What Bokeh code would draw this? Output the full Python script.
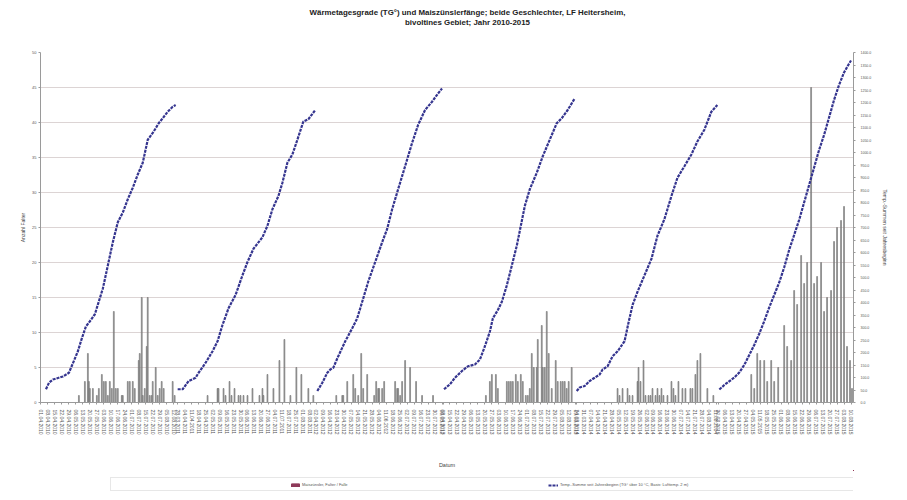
import datetime as dt
from bokeh.plotting import figure
from bokeh.layouts import column
from bokeh.models import (Range1d, LinearAxis, FixedTicker, NumeralTickFormatter,
                          Legend, LegendItem, ColumnDataSource, Label)
from bokeh.embed import file_html
from bokeh.resources import INLINE

# ---------------- data ----------------
years = [2010, 2011, 2012, 2013, 2014, 2015]
year_start = ["01.04.2010", "28.03.2011", "02.04.2012", "08.04.2013", "24.03.2014", "30.03.2015"]
year_days = [137, 139, 127, 134, 142, 136]

# temperature sums (right axis) : day offset within season, value
temp_day_2010 = [5, 8, 12, 22, 28, 37, 40, 45, 50, 54, 62, 67, 72, 77, 82, 87, 92, 97, 102, 107, 113, 118, 122, 127, 132, 135]
temp_val_2010 = [53, 79, 92, 104, 119, 205, 245, 304, 330, 353, 456, 548, 641, 721, 760, 813, 859, 912, 959, 1051, 1084, 1117, 1137, 1163, 1183, 1190]
temp_day_2011 = [0, 5, 11, 18, 21, 28, 35, 40, 45, 51, 58, 65, 70, 76, 85, 90, 95, 101, 105, 110, 115, 120, 126, 131, 138]
temp_val_2011 = [53, 53, 86, 99, 119, 159, 205, 245, 311, 377, 430, 509, 562, 615, 661, 707, 773, 826, 879, 959, 992, 1051, 1124, 1133, 1170]
temp_day_2012 = [1, 6, 11, 14, 17, 22, 29, 36, 41, 46, 52, 59, 66, 71, 76, 82, 89, 96, 102, 109, 116, 122, 126]
temp_val_2012 = [46, 79, 119, 132, 139, 185, 245, 297, 337, 403, 483, 562, 641, 694, 773, 853, 945, 1038, 1110, 1170, 1203, 1236, 1256]
temp_day_2013 = [1, 7, 12, 19, 25, 32, 37, 42, 47, 50, 55, 59, 64, 69, 74, 78, 82, 87, 94, 100, 107, 114, 119, 125, 132]
temp_val_2013 = [53, 73, 99, 126, 145, 152, 172, 225, 284, 337, 370, 403, 469, 548, 628, 707, 786, 853, 919, 985, 1051, 1117, 1137, 1170, 1216]
temp_day_2014 = [0, 3, 8, 13, 18, 23, 26, 31, 36, 41, 48, 52, 56, 61, 68, 75, 81, 88, 95, 101, 108, 115, 121, 128, 135, 141]
temp_val_2014 = [46, 60, 66, 86, 99, 112, 132, 145, 185, 205, 245, 320, 390, 443, 509, 575, 667, 734, 826, 899, 945, 992, 1044, 1091, 1163, 1190]
temp_day_2015 = [1, 6, 11, 16, 21, 26, 31, 36, 41, 46, 51, 56, 61, 66, 71, 76, 81, 86, 91, 96, 101, 106, 111, 116, 121, 126, 131, 133]
temp_val_2015 = [52, 70, 85, 100, 120, 150, 190, 230, 275, 325, 380, 430, 480, 540, 610, 670, 730, 800, 870, 940, 1010, 1070, 1140, 1210, 1270, 1320, 1355, 1368]

# moth catches (left axis): day offset within season, number of moths
catch_day_2010 = [38, 44, 47, 48, 49, 52, 56, 58, 61, 63, 65, 67, 69, 71, 73, 75, 77, 81, 82, 87, 89, 92, 94, 98, 99, 101, 102, 104, 106, 107, 109, 111, 112, 115, 117, 119, 121, 123, 132, 134]
catch_val_2010 = [1, 3, 7, 3, 2, 2, 1, 2, 4, 3, 3, 1, 3, 2, 13, 2, 2, 1, 1, 3, 3, 3, 2, 6, 7, 15, 1, 2, 8, 15, 1, 1, 3, 5, 1, 2, 3, 2, 3, 1]
catch_day_2011 = [30, 40, 41, 46, 48, 52, 54, 57, 61, 63, 66, 70, 75, 82, 85, 86, 90, 96, 102, 107, 113, 119, 124, 131, 136]
catch_val_2011 = [1, 2, 2, 2, 1, 3, 1, 2, 1, 1, 1, 1, 2, 1, 2, 1, 4, 2, 6, 9, 1, 5, 4, 2, 1]
catch_day_2012 = [20, 26, 27, 31, 37, 39, 42, 45, 47, 51, 58, 60, 62, 63, 66, 68, 79, 81, 82, 84, 86, 89, 94, 100, 106, 117]
catch_val_2012 = [1, 1, 1, 3, 4, 2, 1, 7, 2, 4, 1, 3, 2, 2, 2, 3, 3, 2, 2, 1, 3, 6, 5, 3, 1, 1]
catch_day_2013 = [43, 47, 49, 53, 55, 64, 66, 68, 70, 73, 75, 78, 80, 83, 85, 87, 89, 91, 94, 95, 99, 100, 102, 104, 106, 109, 113, 115, 118, 120, 122, 124, 126, 129]
catch_val_2013 = [1, 3, 4, 4, 2, 3, 3, 3, 3, 4, 3, 4, 3, 1, 1, 2, 7, 5, 5, 9, 11, 5, 5, 13, 7, 2, 6, 3, 3, 3, 3, 2, 3, 5]
catch_day_2014 = [41, 43, 46, 51, 53, 56, 61, 62, 64, 67, 69, 72, 74, 76, 79, 81, 83, 85, 87, 91, 95, 97, 99, 102, 106, 109, 114, 116, 119, 121, 124, 131, 137]
catch_val_2014 = [2, 1, 2, 2, 1, 1, 3, 5, 3, 6, 1, 1, 1, 2, 1, 2, 1, 2, 1, 1, 3, 2, 1, 3, 2, 2, 2, 2, 4, 6, 7, 2, 1]
catch_day_2015 = [33, 36, 39, 42, 46, 49, 53, 56, 60, 66, 69, 73, 76, 79, 83, 86, 89, 93, 96, 99, 103, 106, 109, 113, 116, 119, 123, 126, 129, 132, 134]
catch_val_2015 = [4, 2, 7, 6, 6, 3, 6, 3, 5, 11, 8, 6, 16, 14, 21, 17, 20, 45, 17, 18, 20, 13, 15, 16, 23, 25, 26, 28, 8, 6, 2]

temp_days = [temp_day_2010, temp_day_2011, temp_day_2012, temp_day_2013, temp_day_2014, temp_day_2015]
temp_vals = [temp_val_2010, temp_val_2011, temp_val_2012, temp_val_2013, temp_val_2014, temp_val_2015]
catch_days = [catch_day_2010, catch_day_2011, catch_day_2012, catch_day_2013, catch_day_2014, catch_day_2015]
catch_vals = [catch_val_2010, catch_val_2011, catch_val_2012, catch_val_2013, catch_val_2014, catch_val_2015]

title_lines = ["Wärmetagesgrade (TG°) und Maiszünslerfänge; beide Geschlechter, LF Heitersheim,",
               "bivoltines Gebiet; Jahr 2010-2015"]
label_catch = "Maiszünsler, Falter / Falle"
label_temp = "Temp.-Summe seit Jahresbeginn (TG° über 10 °C, Basis: Lufttemp. 2 m)"

# ---------------- derived positions ----------------
offsets = []
acc = 0
for n in year_days:
    offsets.append(acc)
    acc += n
total_days = acc

tick_pos = []
tick_lab = {}
for start, off, n in zip(year_start, offsets, year_days):
    d0 = dt.datetime.strptime(start, "%d.%m.%Y")
    for d in range(0, n, 7):
        tick_pos.append(off + d)
        tick_lab[off + d] = (d0 + dt.timedelta(days=d)).strftime("%d.%m.%Y")

FONT = "Liberation Sans"

# ---------------- title strip ----------------
tt = figure(width=891, height=30, x_range=Range1d(0, 1), y_range=Range1d(0, 1),
            output_backend="svg", toolbar_location=None, min_border=0,
            x_axis_location=None, y_axis_location=None)
tt.outline_line_color = None
tt.grid.visible = False
tt.add_layout(Label(x=427, y=13, x_units="screen", y_units="screen",
                    text="\n".join(title_lines), text_align="center", text_baseline="middle",
                    text_font=FONT, text_font_size="7.9px", text_font_style="bold",
                    text_color="#222222"))

# ---------------- main chart ----------------
p = figure(width=891, height=440, x_range=Range1d(-0.5, total_days - 0.5), y_range=Range1d(0, 50),
           output_backend="svg", toolbar_location=None,
           min_border_left=40, min_border_right=36, min_border_top=22, min_border_bottom=65)
p.extra_y_ranges = {"temp": Range1d(0, 1400)}

p.outline_line_color = None
p.xgrid.visible = False
p.ygrid.grid_line_color = "#dcd4d4"
p.ygrid.grid_line_width = 1

# left axis
ax = p.yaxis[0]
ax.ticker = FixedTicker(ticks=list(range(0, 51, 5)))
ax.axis_label = "Anzahl Falter"
ax.axis_label_text_font = FONT
ax.axis_label_text_font_size = "5px"
ax.axis_label_text_font_style = "normal"
ax.axis_label_standoff = 3
ax.major_label_standoff = 2
ax.major_label_text_font = FONT
ax.major_label_text_font_size = "4px"
ax.major_label_text_color = "#555555"
ax.axis_line_color = "#9a9a9a"
ax.major_tick_line_color = "#9a9a9a"
ax.major_tick_out = 2
ax.major_tick_in = 0
ax.minor_tick_line_color = None

# right axis
rax = LinearAxis(y_range_name="temp", ticker=FixedTicker(ticks=list(range(0, 1401, 50))),
                 formatter=NumeralTickFormatter(format="0.0"))
rax.axis_label = "Temp.-Summen seit Jahresbeginn"
rax.axis_label_text_font = FONT
rax.axis_label_text_font_size = "5px"
rax.axis_label_text_font_style = "normal"
rax.axis_label_standoff = 8
try:
    rax.axis_label_orientation = "vertical"
except Exception:
    pass
rax.major_label_text_font = FONT
rax.major_label_text_font_size = "3.5px"
rax.major_label_text_color = "#555555"
rax.axis_line_color = "#9a9a9a"
rax.major_tick_line_color = "#9a9a9a"
rax.major_tick_out = 2
rax.major_tick_in = 0
rax.minor_tick_line_color = None
p.add_layout(rax, "right")

# bottom axis
bx = p.xaxis[0]
bx.ticker = FixedTicker(ticks=tick_pos)
bx.major_label_overrides = tick_lab
bx.major_label_orientation = "vertical"
bx.major_label_text_font = FONT
bx.major_label_text_font_size = "5px"
bx.major_label_text_color = "#555555"
bx.axis_label = "Datum"
bx.axis_label_text_font = FONT
bx.axis_label_text_font_size = "5.5px"
bx.axis_label_text_font_style = "normal"
bx.axis_label_standoff = 24
bx.axis_line_color = "#9a9a9a"
bx.major_tick_line_color = "#9a9a9a"
bx.major_tick_out = 2
bx.major_tick_in = 0
bx.minor_tick_line_color = None

# bars
bar_sources = []
for off, days, vals in zip(offsets, catch_days, catch_vals):
    src = ColumnDataSource(dict(x=[off + d for d in days], top=vals))
    bar_sources.append(src)
    p.vbar(x="x", top="top", bottom=0, width=0.9, source=src,
           fill_color="#ababab", line_color="#6a6a6a", line_width=0.6)

# temperature lines
line_sources = []
for off, days, vals in zip(offsets, temp_days, temp_vals):
    src = ColumnDataSource(dict(x=[off + d for d in days], y=vals))
    line_sources.append(src)
    p.line(x="x", y="y", source=src, y_range_name="temp",
           line_color="#35358f", line_width=2.2, line_dash="3 1")

# ---------------- legend strip below the chart ----------------
# The strip shows the same series, but its ranges lie outside the data, so only
# the legend swatches are visible there.
lg = figure(width=891, height=22, x_range=Range1d(-20, -10), y_range=Range1d(-20, -10),
            output_backend="svg", toolbar_location=None, min_border=0,
            x_axis_location=None, y_axis_location=None)
lg.outline_line_color = None
lg.grid.visible = False
sw_bar = lg.vbar(x="x", top="top", bottom=0, width=0.9, source=bar_sources[0],
                 fill_color="#8e3a5a", line_color="#8e3a5a")
sw_line = lg.line(x="x", y="y", source=line_sources[0],
                  line_color="#35358f", line_width=2.2, line_dash="3 1")
sw_none = lg.line(x="x", y="y", source=line_sources[0], line_alpha=0)

box = Legend(items=[LegendItem(label=" ", renderers=[sw_none])],
             location=(70, 1), orientation="horizontal",
             label_text_font_size="4px", glyph_width=1, glyph_height=4,
             label_standoff=0, label_width=750, label_height=4, padding=4, margin=0,
             border_line_color="#d0d0d0", border_line_width=1, background_fill_alpha=0)
lg.add_layout(box)

legend = Legend(items=[LegendItem(label=label_catch, renderers=[sw_bar]),
                       LegendItem(label=label_temp, renderers=[sw_line])],
                orientation="horizontal", location=(246, 1),
                label_text_font=FONT, label_text_font_size="4px", label_text_color="#555555",
                glyph_width=10, glyph_height=4, label_standoff=2, label_height=4,
                label_width=60, spacing=186, padding=4, margin=0,
                border_line_alpha=0, background_fill_alpha=0)
lg.add_layout(legend)

layout = column(tt, p, lg, spacing=0)
open("out.html", "w").write(file_html(layout, INLINE))
